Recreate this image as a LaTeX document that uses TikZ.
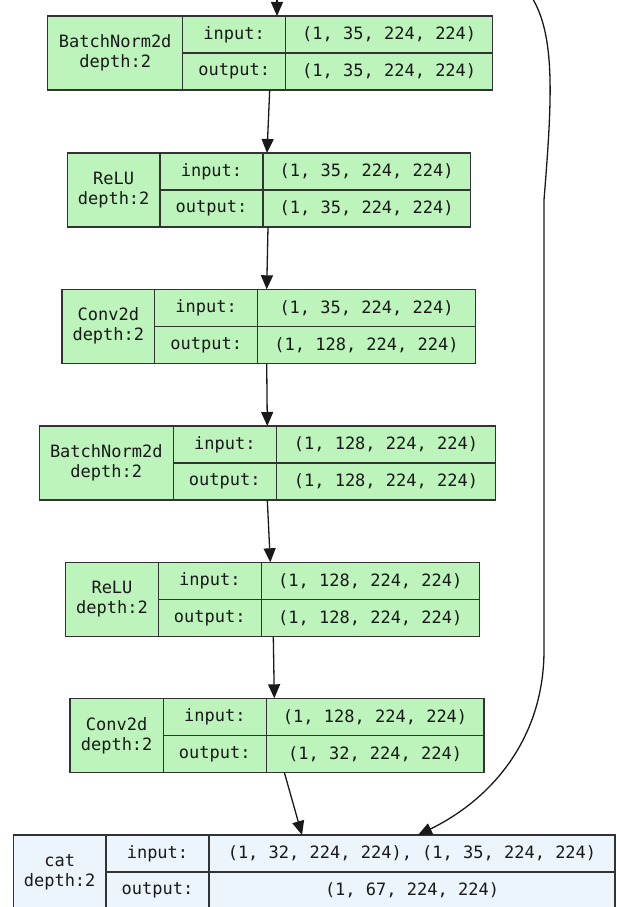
\documentclass[tikz,border=0pt]{standalone}
\usepackage{fontspec}
\setmonofont{DejaVu Sans Mono}
\usetikzlibrary{arrows.meta, positioning}
\definecolor{modgreen}{RGB}{188,244,188}
\definecolor{funcblue}{RGB}{237,245,252}
\newcommand{\cellfont}{\ttfamily\fontsize{17}{20}\selectfont}

\begin{document}
\begin{tikzpicture}[
    x=1pt, y=-1pt,
    cell/.style={rectangle, draw=black!80, line width=1.4pt, outer sep=0pt, inner sep=0pt, minimum height=37pt, align=center, font=\cellfont, text=black!90},
    namecell/.style={cell, minimum height=74pt, anchor=north west},
    lbl/.style={cell, minimum width=103pt},
    modfill/.style={fill=modgreen},
    funcfill/.style={fill=funcblue},
    arrow/.style={-{Triangle[length=14pt, width=12pt]}, line width=1.3pt, black!90}
]
\useasboundingbox (0,0) rectangle (616,907);

% BatchNorm2d
\node[namecell, modfill, minimum width=135pt] (bn1) at (47.7,16) {BatchNorm2d\\depth:2};
\node[lbl, modfill, below right=0pt and 0pt of bn1.north east] (bn1-il) {input:};
\node[lbl, modfill, below=0pt of bn1-il] (bn1-ol) {output:};
\node[cell, modfill, minimum width=207pt, right=0pt of bn1-il] (bn1-iv) {(1, 35, 224, 224)};
\node[cell, modfill, minimum width=207pt, right=0pt of bn1-ol] (bn1-ov) {(1, 35, 224, 224)};

% ReLU
\node[namecell, modfill, minimum width=92.7pt] (relu1) at (67.3,153) {ReLU\\depth:2};
\node[lbl, modfill, below right=0pt and 0pt of relu1.north east] (relu1-il) {input:};
\node[lbl, modfill, below=0pt of relu1-il] (relu1-ol) {output:};
\node[cell, modfill, minimum width=207.3pt, right=0pt of relu1-il] (relu1-iv) {(1, 35, 224, 224)};
\node[cell, modfill, minimum width=207.3pt, right=0pt of relu1-ol] (relu1-ov) {(1, 35, 224, 224)};

% Conv2d
\node[namecell, modfill, minimum width=92.7pt] (conv1) at (62,289.3) {Conv2d\\depth:2};
\node[lbl, modfill, below right=0pt and 0pt of conv1.north east] (conv1-il) {input:};
\node[lbl, modfill, below=0pt of conv1-il] (conv1-ol) {output:};
\node[cell, modfill, minimum width=217.6pt, right=0pt of conv1-il] (conv1-iv) {(1, 35, 224, 224)};
\node[cell, modfill, minimum width=217.6pt, right=0pt of conv1-ol] (conv1-ov) {(1, 128, 224, 224)};

% BatchNorm2d
\node[namecell, modfill, minimum width=134pt] (bn2) at (39.3,426) {BatchNorm2d\\depth:2};
\node[lbl, modfill, below right=0pt and 0pt of bn2.north east] (bn2-il) {input:};
\node[lbl, modfill, below=0pt of bn2-il] (bn2-ol) {output:};
\node[cell, modfill, minimum width=219.3pt, right=0pt of bn2-il] (bn2-iv) {(1, 128, 224, 224)};
\node[cell, modfill, minimum width=219.3pt, right=0pt of bn2-ol] (bn2-ov) {(1, 128, 224, 224)};

% ReLU
\node[namecell, modfill, minimum width=92.6pt] (relu2) at (65.7,562.3) {ReLU\\depth:2};
\node[lbl, modfill, below right=0pt and 0pt of relu2.north east] (relu2-il) {input:};
\node[lbl, modfill, below=0pt of relu2-il] (relu2-ol) {output:};
\node[cell, modfill, minimum width=218pt, right=0pt of relu2-il] (relu2-iv) {(1, 128, 224, 224)};
\node[cell, modfill, minimum width=218pt, right=0pt of relu2-ol] (relu2-ov) {(1, 128, 224, 224)};

% Conv2d
\node[namecell, modfill, minimum width=93.3pt] (conv2) at (70,698.3) {Conv2d\\depth:2};
\node[lbl, modfill, below right=0pt and 0pt of conv2.north east] (conv2-il) {input:};
\node[lbl, modfill, below=0pt of conv2-il] (conv2-ol) {output:};
\node[cell, modfill, minimum width=217.6pt, right=0pt of conv2-il] (conv2-iv) {(1, 128, 224, 224)};
\node[cell, modfill, minimum width=217.6pt, right=0pt of conv2-ol] (conv2-ov) {(1, 32, 224, 224)};

% cat
\node[namecell, funcfill, minimum width=92.7pt] (cat) at (13.3,835) {cat\\depth:2};
\node[lbl, funcfill, below right=0pt and 0pt of cat.north east] (cat-il) {input:};
\node[lbl, funcfill, below=0pt of cat-il] (cat-ol) {output:};
\node[cell, funcfill, minimum width=406pt, right=0pt of cat-il] (cat-iv) {(1, 32, 224, 224), (1, 35, 224, 224)};
\node[cell, funcfill, minimum width=406pt, right=0pt of cat-ol] (cat-ov) {(1, 67, 224, 224)};

% Arrows
\coordinate (in0) at (277,-4);
\coordinate (skip) at (531,-4);
\draw[arrow] (in0) -- (in0 |- bn1.north);
\draw[arrow] ([xshift=-16pt]bn1-ov.south west) -- ([xshift=4pt]relu1-iv.north west);
\draw[arrow] ([xshift=5pt]relu1-ov.south west) -- ([xshift=9pt]conv1-iv.north west);
\draw[arrow] ([xshift=9pt]conv1-ov.south west) -- ([xshift=-9pt]bn2-iv.north west);
\draw[arrow] ([xshift=-9pt]bn2-ov.south west) -- ([xshift=9pt]relu2-iv.north west);
\draw[arrow] ([xshift=12pt]relu2-ov.south west) -- ([xshift=8pt]conv2-iv.north west);
\draw[arrow] ([xshift=18pt]conv2-ov.south west) -- ([xshift=93pt]cat-iv.north west);

% Skip connection
\draw[arrow] (skip) .. controls (556,35) and (552,100) .. (544,200) -- (544,650)
    .. controls (544,740) and (490,800) .. ([xshift=209pt]cat-iv.north west);

\end{tikzpicture}
\end{document}
